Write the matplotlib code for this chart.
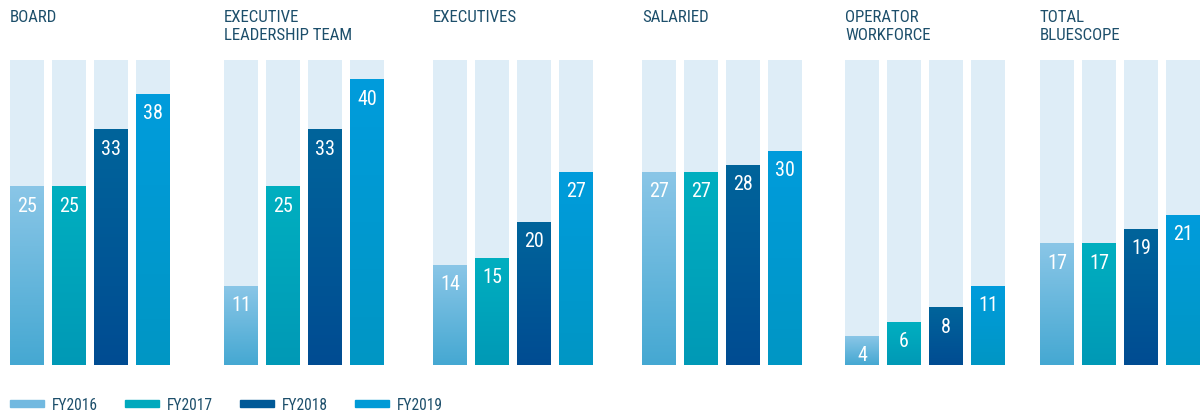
import matplotlib.pyplot as plt
import numpy as np
from matplotlib.colors import LinearSegmentedColormap
from matplotlib.patches import Rectangle

# data
groups = ["BOARD", "EXECUTIVE\nLEADERSHIP TEAM", "EXECUTIVES", "SALARIED",
          "OPERATOR\nWORKFORCE", "TOTAL\nBLUESCOPE"]
years = ["FY2016", "FY2017", "FY2018", "FY2019"]
fy2016 = [25, 11, 14, 27, 4, 17]
fy2017 = [25, 25, 15, 27, 6, 17]
fy2018 = [33, 33, 20, 28, 8, 19]
fy2019 = [38, 40, 27, 30, 11, 21]
values = [fy2016, fy2017, fy2018, fy2019]
scale_max = 42.8

# gradient colours (top, bottom) per year
grads = [("#8ac6e7", "#45a8d2"), ("#00afc0", "#0099b6"),
         ("#00649b", "#004c92"), ("#009cdc", "#0096c4")]
legend_colors = ["#72b9e0", "#00a9bd", "#005997", "#009ad6"]
bg_color = "#deedf7"
text_color = "#1d4f6b"

plt.rcParams["font.family"] = ["Roboto Condensed", "DejaVu Sans"]

W, H = 1202, 415
fig = plt.figure(figsize=(W / 100, H / 100), dpi=100)

panel_left = [10, 224, 433, 642, 845, 1040]
ax_bottom, ax_top = 365, 60
panel_w = 160
bar_w = 34 / 42
x = np.arange(len(years))
grad = np.linspace(0, 1, 256).reshape(-1, 1)

for g, name in enumerate(groups):
    ax = fig.add_axes([panel_left[g] / W, (H - ax_bottom) / H,
                       panel_w / W, (ax_bottom - ax_top) / H])
    ax.axis("off")
    ax.bar(x, [scale_max] * len(x), width=bar_w, color=bg_color, zorder=1)
    for k in range(len(years)):
        v = values[k][g]
        cmap = LinearSegmentedColormap.from_list("g", [grads[k][1], grads[k][0]])
        ax.imshow(grad, cmap=cmap, origin="lower", aspect="auto",
                  extent=[x[k] - bar_w / 2, x[k] + bar_w / 2, 0, v], zorder=2)
        ax.annotate(str(v), (x[k], v), xytext=(0, -7), textcoords="offset points",
                    ha="center", va="top", color="white", fontsize=14.5, zorder=3)
    ax.set_xlim(-bar_w / 2, 3 + bar_w / 2)
    ax.set_ylim(0, scale_max)
    fig.text(panel_left[g] / W, 1 - 10.5 / H, name, ha="left", va="top",
             fontsize=12.2, color=text_color, linespacing=1.22)

# legend
leg_x = [10, 125, 240, 355]
for k, yr in enumerate(years):
    fig.add_artist(Rectangle((leg_x[k] / W, (H - 407) / H), 34 / W, 7 / H,
                             transform=fig.transFigure, color=legend_colors[k]))
    fig.text((leg_x[k] + 42) / W, (H - 410) / H, yr, ha="left", va="baseline",
             fontsize=11.2, color=text_color)

fig.savefig("out.png", dpi=100)
